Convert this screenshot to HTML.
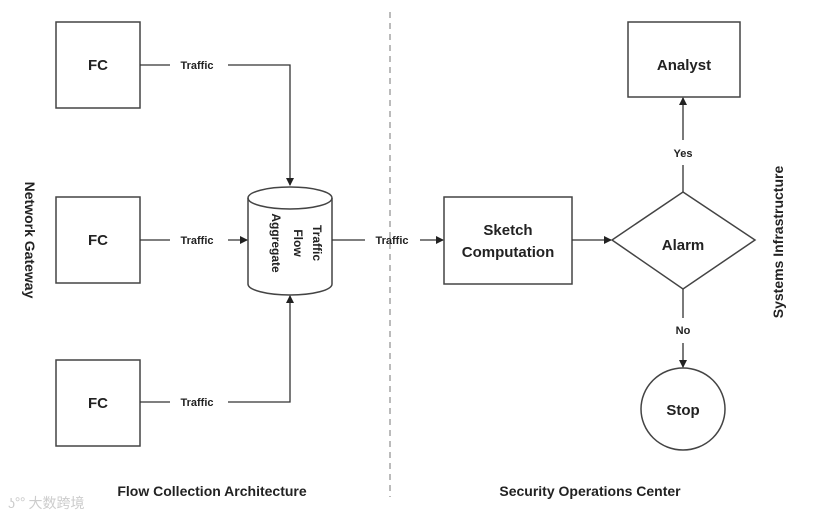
<!DOCTYPE html>
<html><head><style>
html,body{margin:0;padding:0;background:#fff;}
svg{display:block;}
text{font-family:"Liberation Sans",sans-serif;font-weight:bold;fill:#222;}
</style></head><body>
<svg width="840" height="520" viewBox="0 0 840 520" xmlns="http://www.w3.org/2000/svg">
<defs><marker id="a" markerWidth="8" markerHeight="8" refX="7" refY="4" orient="auto" markerUnits="userSpaceOnUse"><path d="M0,0 L8,4 L0,8 z" fill="#222"/></marker></defs>
<g stroke="#444" stroke-width="1.5" fill="none">
<rect x="56" y="22" width="84" height="86"/>
<rect x="56" y="197" width="84" height="86"/>
<rect x="56" y="360" width="84" height="86"/>
<rect x="444" y="197" width="128" height="87"/>
<rect x="628" y="22" width="112" height="75"/>
<polygon points="683,192 755,240 683,289 612,240"/>
<ellipse cx="683" cy="409" rx="42" ry="41"/>
<path d="M248,198 L248,284 A42,11 0 0 0 332,284 L332,198"/>
<ellipse cx="290" cy="198" rx="42" ry="11"/>
</g>
<line x1="390" y1="12" x2="390" y2="497" stroke="#777" stroke-width="1" stroke-dasharray="6,5"/>
<g stroke="#333" stroke-width="1.3" fill="none">
<line x1="140" y1="65" x2="170" y2="65"/><polyline points="228,65 290,65 290,185" marker-end="url(#a)"/>
<line x1="140" y1="240" x2="170" y2="240"/><line x1="228" y1="240" x2="247" y2="240" marker-end="url(#a)"/>
<line x1="140" y1="402" x2="170" y2="402"/><polyline points="228,402 290,402 290,296" marker-end="url(#a)"/>
<line x1="332" y1="240" x2="365" y2="240"/><line x1="420" y1="240" x2="443" y2="240" marker-end="url(#a)"/>
<line x1="572" y1="240" x2="611" y2="240" marker-end="url(#a)"/>
<line x1="683" y1="192" x2="683" y2="165"/><line x1="683" y1="140" x2="683" y2="98" marker-end="url(#a)"/>
<line x1="683" y1="289" x2="683" y2="318"/><line x1="683" y1="343" x2="683" y2="367" marker-end="url(#a)"/>
</g>
<g font-size="15" text-anchor="middle">
<text x="98" y="70">FC</text><text x="98" y="245">FC</text><text x="98" y="408">FC</text>
<text x="684" y="70">Analyst</text>
<text x="508" y="235">Sketch</text><text x="508" y="257">Computation</text>
<text x="683" y="250">Alarm</text>
<text x="683" y="415">Stop</text>
<text x="212" y="496" font-size="14">Flow Collection Architecture</text>
<text x="590" y="496" font-size="14">Security Operations Center</text>
</g>
<g font-size="11" text-anchor="middle">
<text x="197" y="69">Traffic</text><text x="197" y="244">Traffic</text><text x="197" y="406">Traffic</text>
<text x="392" y="244">Traffic</text>
<text x="683" y="157">Yes</text><text x="683" y="334">No</text>
</g>
<g font-size="12" text-anchor="middle">
<text transform="translate(313,243) rotate(90)">Traffic</text>
<text transform="translate(294,243) rotate(90)">Flow</text>
<text transform="translate(272,243) rotate(90)">Aggregate</text>
</g>
<text font-size="14" text-anchor="middle" transform="translate(25,240) rotate(90)">Network Gateway</text>
<text font-size="14" text-anchor="middle" transform="translate(783,242) rotate(-90)">Systems Infrastructure</text>
<text x="8" y="508" font-size="14" style="font-family:'Noto Sans CJK SC',sans-serif;font-weight:normal;fill:#ccc">ʖ°° 大数跨境</text>
</svg>
</body></html>
